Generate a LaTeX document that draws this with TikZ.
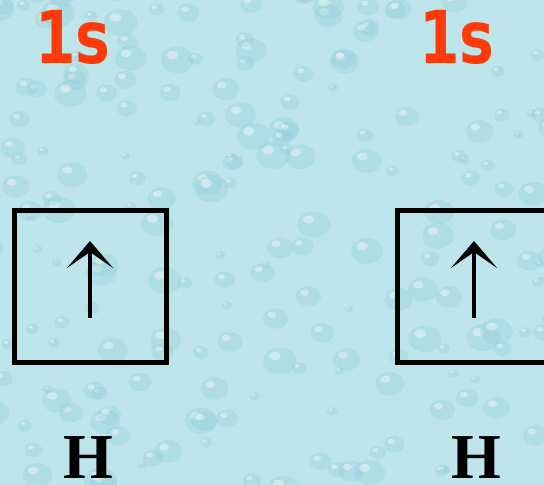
\documentclass[tikz,border=0pt]{standalone}
\usepackage{fontspec}
\usepackage{tikz}
\usetikzlibrary{arrows.meta,positioning}
\newfontfamily\shellfont{DejaVu Sans}
\newfontfamily\atomfont{Liberation Serif}
\definecolor{Water}{HTML}{BDE5EB}
\definecolor{DropShade}{HTML}{86C6D3}
\definecolor{ShellRed}{HTML}{FF3A0A}
\tikzset{
    every node/.style={inner sep=0pt},
    orbital/.style={
        draw=black, line width=5pt,
        minimum width=152pt, minimum height=152pt
    },
    spinarrow/.style={
        -{Stealth[length=27pt,width=46pt,inset=16pt]},
        line width=4pt, black
    },
    shelltext/.style={
        text=ShellRed, anchor=base,
        font=\shellfont\bfseries\fontsize{73}{80}\selectfont
    },
    atomtext/.style={
        text=black, anchor=base,
        font=\atomfont\bfseries\fontsize{64}{72}\selectfont
    },
}

\begin{document}
\begin{tikzpicture}[x=1pt,y=-1pt]
    % Water background
    \clip (0,0) rectangle (544,485);
    \fill[Water] (0,0) rectangle (544,485);

    % Droplets
    \pgfmathsetseed{42}
    \foreach \k in {1,...,200}{
        \pgfmathsetmacro{\px}{rnd*570-12}
        \pgfmathsetmacro{\py}{rnd*510-12}
        \pgfmathsetmacro{\rr}{4+rnd*13}
        \fill[DropShade, opacity=0.25] (\px,\py) ellipse ({\rr} and {0.8*\rr});
        \fill[white, opacity=0.4] (\px-0.3*\rr,\py-0.3*\rr) ellipse ({0.35*\rr} and {0.25*\rr});
    }

    % Orbital labels
    \node[shelltext] (shell1) at (73,63) {\scalebox{0.8}[1]{1s}};
    \node[shelltext] (shell2) at (457,63) {\scalebox{0.8}[1]{1s}};

    % Orbital boxes
    \node[orbital] (box1) at (90,286) {};
    \node[orbital] (box2) at (473,286) {};

    % Electron spins
    \coordinate (tail1) at (90,318);
    \coordinate (tip1) at (90,241);
    \coordinate (tail2) at (474,318);
    \coordinate (tip2) at (474,241);
    \draw[spinarrow] (tail1) -- (tip1);
    \draw[spinarrow] (tail2) -- (tip2);

    % Atoms
    \node[atomtext] (atom1) at (88,478) {H};
    \node[atomtext] (atom2) at (476,478) {H};
\end{tikzpicture}
\end{document}
